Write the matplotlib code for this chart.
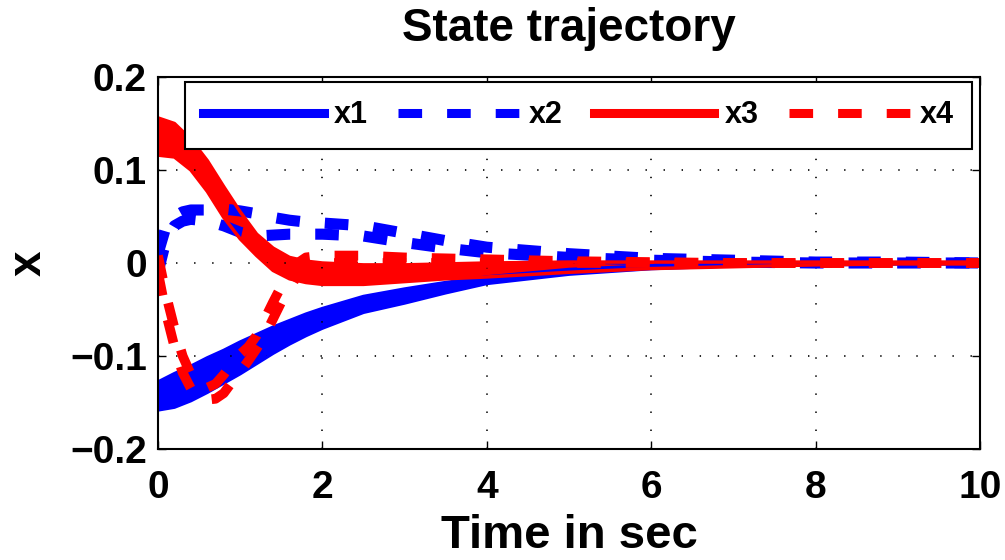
import numpy as np
import matplotlib.pyplot as plt
from matplotlib.lines import Line2D

plt.rcParams['font.family'] = ['Liberation Sans', 'DejaVu Sans']
plt.rcParams['font.weight'] = 'bold'
plt.rcParams['lines.scale_dashes'] = False

# dane (dolna / gorna krawedz pasma)
t_x1 = [0, 0.2, 0.4, 0.6, 0.8, 1.0, 1.2, 1.4, 1.6, 1.8, 2.0, 2.5, 3, 3.5, 4, 5, 6, 7, 8, 9, 10]
x1_hi = [-0.128, -0.119, -0.111, -0.102, -0.094, -0.085, -0.077, -0.069, -0.062, -0.055, -0.049,
         -0.036, -0.028, -0.021, -0.015, -0.007, -0.003, -0.001, 0.000, 0.000, 0.000]
x1_lo = [-0.158, -0.155, -0.148, -0.139, -0.129, -0.119, -0.108, -0.097, -0.087, -0.078, -0.070,
         -0.053, -0.043, -0.032, -0.022, -0.012, -0.006, -0.003, -0.002, -0.001, -0.001]

t_x3 = [0, 0.2, 0.4, 0.6, 0.8, 1.0, 1.2, 1.4, 1.6, 1.8, 2.0, 2.5, 3, 3.5, 4, 5, 6, 7, 8, 9, 10]
x3_hi = [0.156, 0.150, 0.133, 0.110, 0.082, 0.055, 0.031, 0.016, 0.006, 0.002, 0.000,
         -0.002, -0.002, -0.001, 0.000, 0.001, 0.001, 0.001, 0.001, 0.001, 0.001]
x3_lo = [0.116, 0.114, 0.100, 0.077, 0.049, 0.026, 0.008, -0.008, -0.017, -0.021, -0.023,
         -0.023, -0.020, -0.017, -0.015, -0.010, -0.006, -0.004, -0.002, -0.001, -0.001]

t_x2 = [0, 0.1, 0.2, 0.3, 0.4, 0.6, 0.8, 1.0, 1.2, 1.4, 1.6, 1.8, 2.0, 2.5, 3, 3.5, 4, 5, 6, 7, 8, 9, 10]
x2_lo = [-0.010, 0.025, 0.040, 0.045, 0.047, 0.045, 0.040, 0.033, 0.029, 0.030, 0.031, 0.031, 0.031,
         0.029, 0.022, 0.016, 0.011, 0.006, 0.003, 0.001, 0.000, 0.000, 0.000]
x2_hi = [0.010, 0.040, 0.050, 0.055, 0.057, 0.057, 0.058, 0.056, 0.053, 0.049, 0.046, 0.044, 0.043,
         0.040, 0.032, 0.024, 0.017, 0.010, 0.005, 0.003, 0.001, 0.001, 0.000]

t_x4 = [0, 0.1, 0.2, 0.3, 0.4, 0.5, 0.6, 0.7, 0.8, 0.9, 1.0, 1.1, 1.2, 1.3, 1.4, 1.5, 1.6, 1.7, 1.8,
        2.0, 2.5, 3, 3.5, 4, 5, 6, 7, 8, 9, 10]
x4_lo = [-0.010, -0.055, -0.090, -0.118, -0.135, -0.143, -0.147, -0.146, -0.140, -0.128, -0.117,
         -0.105, -0.092, -0.078, -0.060, -0.042, -0.028, -0.012, -0.003,
         0.000, 0.000, 0.000, 0.000, 0.000, 0.000, 0.000, 0.000, 0.000, 0.000, 0.000]
x4_hi = [0.008, -0.035, -0.070, -0.100, -0.120, -0.130, -0.134, -0.130, -0.120, -0.108, -0.098,
         -0.090, -0.078, -0.060, -0.042, -0.025, -0.010, 0.000, 0.006,
         0.008, 0.008, 0.006, 0.005, 0.004, 0.002, 0.001, 0.000, 0.000, 0.000, 0.000]

labels = ['x1', 'x2', 'x3', 'x4']
xticks = [0, 2, 4, 6, 8, 10]
yticks = [-0.2, -0.1, 0, 0.1, 0.2]
ytick_labels = ['\u22120.2', '\u22120.1', '0', '0.1', '0.2']

blue = '#0000ff'
red = '#ff0000'
dash = (17, 18)

fig = plt.figure(figsize=(10.05, 5.6), dpi=100)
ax = fig.add_axes([158/1005, 1-449/560, (980-158)/1005, (449-77)/560])

# x1 - pasmo niebieskie ciagle
ax.fill_between(t_x1, x1_lo, x1_hi, color=blue, lw=0)
ax.plot(t_x1, x1_lo, color=blue, lw=2.5, solid_capstyle='round')
ax.plot(t_x1, x1_hi, color=blue, lw=2.5, solid_capstyle='round')

# x2 - niebieskie przerywane
for v in (x2_lo, x2_hi):
    ax.plot(t_x2, v, color=blue, lw=8, dashes=dash)

# x3 - pasmo czerwone ciagle
ax.fill_between(t_x3, x3_lo, x3_hi, color=red, lw=0)
ax.plot(t_x3, x3_lo, color=red, lw=2.5, solid_capstyle='round')
ax.plot(t_x3, x3_hi, color=red, lw=2.5, solid_capstyle='round')

# x4 - czerwone przerywane
for v in (x4_lo, x4_hi):
    ax.plot(t_x4, v, color=red, lw=7, dashes=dash)

ax.set_xlim(0, 10)
ax.set_ylim(-0.2, 0.2)
ax.set_xticks(xticks)
ax.set_yticks(yticks)
ax.set_yticklabels(ytick_labels)
ax.tick_params(direction='in', length=6, width=1, top=True, right=True, labelsize=28)
ax.tick_params(axis='x', pad=15)
ax.tick_params(axis='y', pad=8)
ax.grid(True, linestyle=(0, (1, 12)), color='black', lw=1.2)
for s in ax.spines.values():
    s.set_linewidth(1.5)

ax.set_title('State trajectory', fontsize=33, fontweight='bold', pad=26)
ax.set_xlabel('Time in sec', fontsize=34, fontweight='bold', labelpad=6)
ax.set_ylabel('x', fontsize=33, fontweight='bold', labelpad=14)

# legenda
handles = [Line2D([], [], color=blue, lw=6.5),
           Line2D([], [], color=blue, lw=6.5, dashes=dash),
           Line2D([], [], color=red, lw=6.5),
           Line2D([], [], color=red, lw=6.5, dashes=dash)]
leg = ax.legend(handles, labels, ncol=4, loc='upper right', fontsize=22,
                bbox_to_anchor=(972/1005, 1-82/560), bbox_transform=fig.transFigure,
                borderaxespad=0, handlelength=3.95, handletextpad=0.33, columnspacing=1.0,
                fancybox=False, framealpha=1, edgecolor='black', borderpad=0.6)
leg.get_frame().set_linewidth(1.5)

fig.savefig('out.png', dpi=100)
